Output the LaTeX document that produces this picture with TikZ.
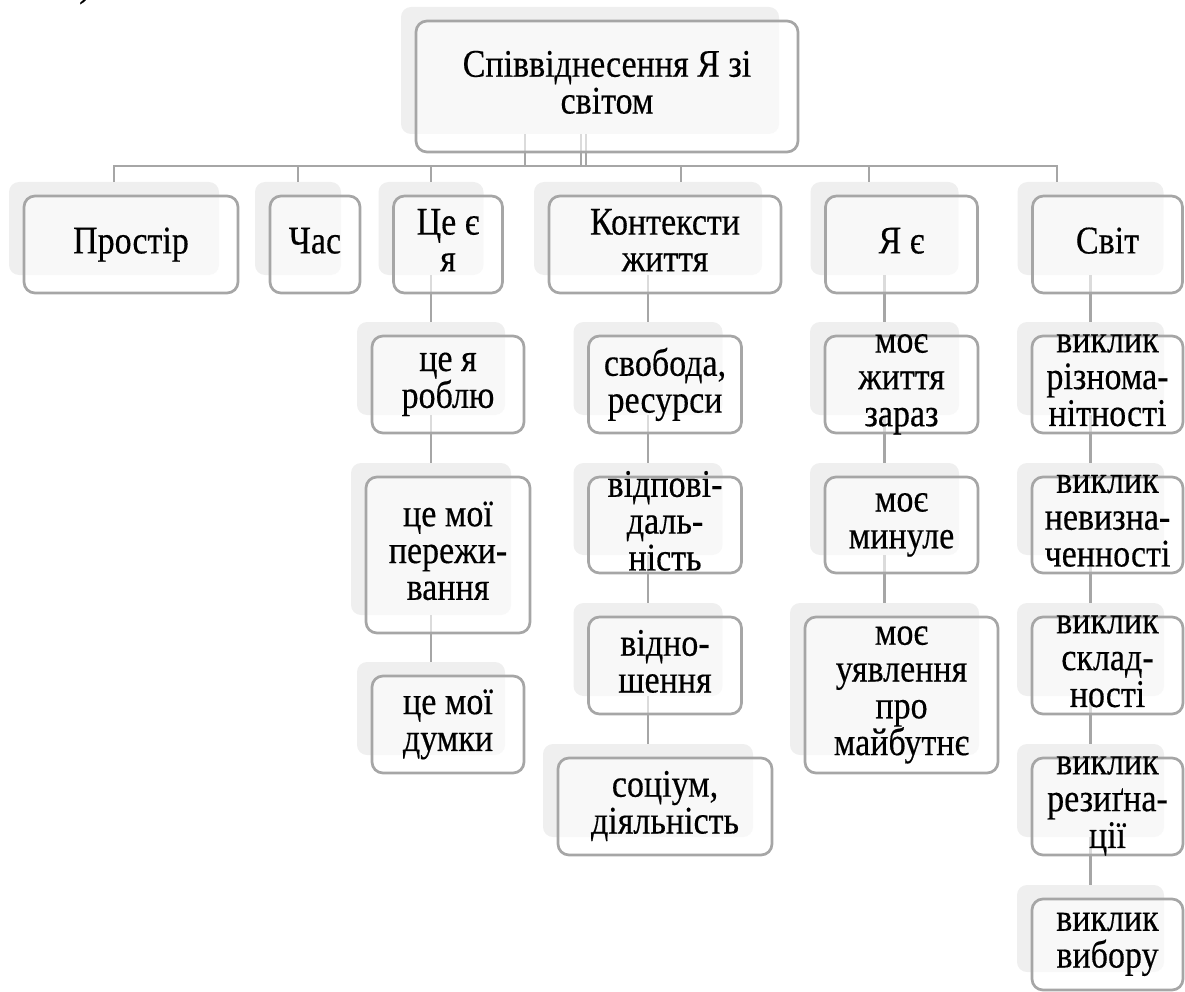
\documentclass[tikz,border=0pt]{standalone}
\usepackage{fontspec}
\setmainfont{Liberation Serif}
\newfontfamily\boxfont{Liberation Serif}[FakeBold=0.4]
\pgfdeclarelayer{backl}
\pgfdeclarelayer{connl}
\pgfsetlayers{backl,connl,main}
\definecolor{bordergray}{HTML}{A6A6A6}
\definecolor{shadowgray}{HTML}{EFEFEF}
\definecolor{linegray}{HTML}{A6A6A6}
\newcommand\lnstrut{\rule[-7.5pt]{0pt}{30.5pt}}
\tikzset{
  backbox/.style={fill=shadowgray, draw=none, rounded corners=10pt, inner sep=0pt},
  frontbox/.style={draw=bordergray, line width=2.7pt, fill=white, fill opacity=0.6,
    rounded corners=11pt, inner sep=0pt},
  boxtext/.style={inner sep=0pt, align=center, text=black,
    yscale=1.15, transform shape,
    font=\boxfont\fontsize{34}{32}\selectfont,
    execute at begin node=\lnstrut, execute at end node=\lnstrut},
  conn/.style={draw=linegray, line width=2.5pt},
}
\newcommand\smartbox[6]{%
  \begin{pgfonlayer}{backl}
    \node[backbox, minimum width=#4pt-4pt, minimum height=#5pt-4pt] (#1B) at (#2-17,#3-16) {};
  \end{pgfonlayer}
  \node[frontbox, minimum width=#4pt, minimum height=#5pt] (#1) at (#2,#3) {};
  \node[boxtext] (#1T) at (#1.center) {#6};
}
\begin{document}
\begin{tikzpicture}[x=1pt,y=-1pt]
\useasboundingbox (0,0) rectangle (1185,992);

% fragment of preceding text, cut off by the top edge as in the reference
\node[anchor=base west, inner sep=0pt, font=\boxfont\fontsize{34}{35}\selectfont] (frag) at (79,-3) {)};

% root
\smartbox{root}{607}{86.5}{382}{131}{Співвіднесення Я зі\\світом}

% level 1
\smartbox{pr}{131}{244.5}{214}{97}{Простір}
\smartbox{chas}{315}{244.5}{90}{97}{Час}
\smartbox{ce}{448}{244.5}{109}{97}{Це є\\я}
\smartbox{kon}{665}{244.5}{232}{97}{Контексти\\життя}
\smartbox{ya}{901.5}{244.5}{152}{97}{Я є}
\smartbox{svit}{1107.5}{244.5}{150}{97}{Світ}

% column: Це є я
\smartbox{ceA}{448}{384.5}{152}{97}{це я\\роблю}
\smartbox{ceBB}{448}{555}{164}{156}{це мої\\пережи-\\вання}
\smartbox{ceC}{448}{724.5}{152}{97}{це мої\\думки}

% column: Контексти життя
\smartbox{konA}{665}{384.5}{153}{97}{свобода,\\ресурси}
\smartbox{konBB}{665}{525}{153}{96}{відпові-\\даль-\\ність}
\smartbox{konC}{665}{665.5}{153}{97}{відно-\\шення}
\smartbox{konD}{665}{806.5}{214}{97}{соціум,\\діяльність}

% column: Я є
\smartbox{yaA}{901.5}{384.5}{153}{97}{моє\\життя\\зараз}
\smartbox{yaBB}{901.5}{525}{153}{96}{моє\\минуле}
\smartbox{yaC}{901.5}{695}{193}{156}{моє\\уявлення\\про\\майбутнє}

% column: Світ
\smartbox{svA}{1107.5}{384.5}{151}{97}{виклик\\різнома-\\нітності}
\smartbox{svBB}{1107.5}{525}{151}{96}{виклик\\невизна-\\ченності}
\smartbox{svC}{1107.5}{665.5}{151}{97}{виклик\\склад-\\ності}
\smartbox{svD}{1107.5}{806.5}{151}{97}{виклик\\резиґна-\\ції}
\smartbox{svE}{1107.5}{944.5}{151}{91}{виклик\\вибору}

\begin{pgfonlayer}{connl}
  \coordinate (busL) at (114,166);
  \coordinate (busR) at (1057,166);
  \draw[conn, line cap=rect] (busL) -- (busR);
  % root to bus
  \draw[conn] ([xshift=-65pt]rootB.south) -- ([xshift=-65pt]rootB.south |- busL);
  \draw[conn] ([xshift=-9pt]rootB.south) -- ([xshift=-9pt]rootB.south |- busL);
  \draw[conn] ([xshift=-4pt]rootB.south) -- ([xshift=-4pt]rootB.south |- busL);
  % bus to level 1
  \draw[conn] (prB.north) -- (prB.north |- busL);
  \draw[conn] (chasB.north) -- (chasB.north |- busL);
  \draw[conn] (ceB.north) -- (ceB.north |- busL);
  \draw[conn] ([xshift=33pt]konB.north) -- ([xshift=33pt]konB.north |- busL);
  \draw[conn] ([xshift=-15.5pt]yaB.north) -- ([xshift=-15.5pt]yaB.north |- busL);
  \draw[conn] ([xshift=-33.5pt]svitB.north) -- ([xshift=-33.5pt]svitB.north |- busL);
  % columns
  \draw[conn] (ceB.south) -- (ceAB.north);
  \draw[conn] (ceAB.south) -- (ceBBB.north);
  \draw[conn] (ceBBB.south) -- (ceCB.north);
  \draw[conn] (konB.south) -- (konAB.north);
  \draw[conn] (konAB.south) -- (konBBB.north);
  \draw[conn] (konBBB.south) -- (konCB.north);
  \draw[conn] (konCB.south) -- (konDB.north);
  \draw[conn] (yaB.south) -- (yaAB.north);
  \draw[conn] (yaAB.south) -- (yaBBB.north);
  \draw[conn] (yaBBB.south) -- (yaCB.north);
  \draw[conn] (svitB.south) -- (svAB.north);
  \draw[conn] (svAB.south) -- (svBBB.north);
  \draw[conn] (svBBB.south) -- (svCB.north);
  \draw[conn] (svCB.south) -- (svDB.north);
  \draw[conn] (svDB.south) -- (svEB.north);
\end{pgfonlayer}
\end{tikzpicture}
\end{document}
